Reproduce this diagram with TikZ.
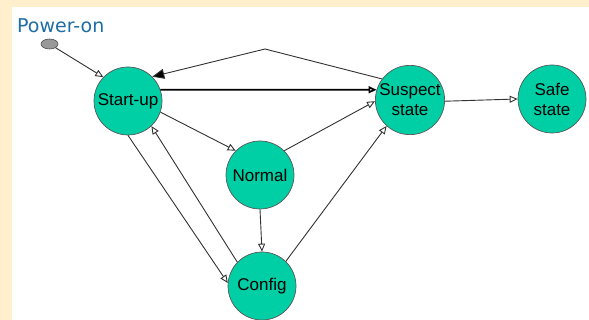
\documentclass[tikz,border=0pt]{standalone}
\usepackage{fontspec}
\setmainfont{Liberation Sans}
\newfontfamily\labelfont{DejaVu Sans}
\usetikzlibrary{arrows.meta,shapes.geometric}
\definecolor{cream}{RGB}{255,239,204}
\definecolor{statefill}{RGB}{0,206,164}
\definecolor{titleblue}{RGB}{30,110,165}
\definecolor{edgegray}{RGB}{50,50,50}
\tikzset{
  state/.style={circle, draw=black!65, line width=0.7pt, fill=statefill,
    minimum size=68pt, inner sep=0pt, align=center,
    font=\fontsize{17}{20}\selectfont},
  trans/.style={draw=edgegray, line width=0.9pt,
    -{Triangle[open, length=8pt, width=7pt, fill=white]}},
  back/.style={draw=edgegray, line width=0.9pt,
    -{Triangle[length=12pt, width=10pt, fill=black]}},
}
\begin{document}
\begin{tikzpicture}[x=1pt, y=-1pt]
  % page background: cream margin with a white panel
  \fill[cream] (0,0) rectangle (589,320);
  \fill[white] (12,7) rectangle (589,320);
  \useasboundingbox (0,0) rectangle (589,320);

  % title and initial pseudo-state
  \node[anchor=base west, inner sep=0pt, text=titleblue,
        font=\labelfont\fontsize{19}{21}\selectfont] (title) at (17,33) {Power-on};
  \node[ellipse, draw=black!70, fill=black!40, line width=0.6pt,
        minimum width=17pt, minimum height=10pt, inner sep=0pt] (po) at (49.5,44) {};

  % states
  \node[state] (su) at (128,101) {Start-up};
  \node[state] (ss) at (410,100) {Suspect\\state};
  \node[state] (sf) at (552,99)  {Safe\\state};
  \node[state] (no) at (260,175) {Normal};
  \node[state] (co) at (262,286) {Config};

  \coordinate (apex) at (265,49);

  % transitions
  \draw[trans] (po) -- (su.136);
  \draw[back]  (ss.143) -- (apex) -- (su.45);
  \draw[trans, line width=1.7pt, draw=black] (su.19) -- (ss.163);
  \draw[trans] (su.-19) -- (no.135);
  \draw[trans] (no.45) -- (ss.182);
  \draw[trans] (su.-90) -- (co.175);
  \draw[trans] (co.136) -- (su.-47);
  \draw[trans] (no.-90) -- (co.90);
  \draw[trans] (co.46) -- (ss.228);
  \draw[trans] (ss.-2) -- (sf.180);
\end{tikzpicture}
\end{document}
